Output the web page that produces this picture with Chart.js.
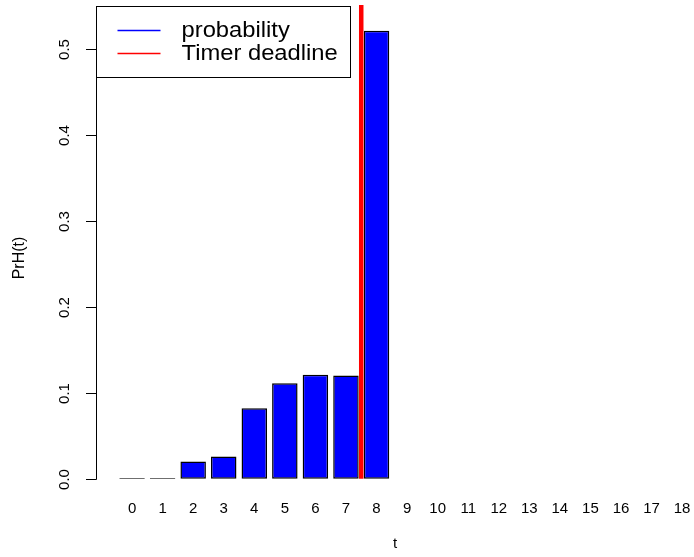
<!DOCTYPE html>
<html>
<head>
<meta charset="utf-8">
<script src="https://cdn.jsdelivr.net/npm/chart.js@4.4.1/dist/chart.umd.min.js"></script>
<style>
    html, body { margin: 0; padding: 0; background: #fff; }
    #wrap { width: 694px; height: 557px; }
</style>
</head>
<body>
<div id="wrap"><canvas id="chart"></canvas></div>
<script>
// --- DATOS ---
const tLabels = [0, 1, 2, 3, 4, 5, 6, 7, 8, 9, 10, 11, 12, 13, 14, 15, 16, 17, 18];
const probValues = [0.0008, 0.0008, 0.020, 0.026, 0.082, 0.111, 0.121, 0.120, 0.521,
    null, null, null, null, null, null, null, null, null, null];
const yTicks = [0.0, 0.1, 0.2, 0.3, 0.4, 0.5];
const deadlineT = 7.5;
const legendLabels = ['probability', 'Timer deadline'];
const legendColors = ['#0000ff', '#ff0000'];

// rango de ejes (como R: 4% extra)
const xMin = -1.18, xMax = 18.39;
const yMin = -0.0212, yMax = 0.551;

const FONT = 'Liberation Sans, Arial, Helvetica, sans-serif';

// --- PLUGIN: eje Y estilo R + leyenda con caja ---
const rAxisPlugin = {
    id: 'rAxis',
    afterDraw(chart) {
        const ctx = chart.ctx;
        const y = chart.scales.y;
        const area = chart.chartArea;
        const x0 = area.left;

        ctx.save();
        ctx.strokeStyle = '#000';
        ctx.lineWidth = 1;

        // linea del eje
        const yTop = Math.round(y.getPixelForValue(yTicks[yTicks.length - 1])) + 0.5;
        const yBot = Math.round(y.getPixelForValue(yTicks[0])) + 0.5;
        ctx.beginPath();
        ctx.moveTo(x0 + 0.5, yTop);
        ctx.lineTo(x0 + 0.5, yBot);
        ctx.stroke();

        // ticks y etiquetas rotadas
        ctx.fillStyle = '#000';
        ctx.font = '15px ' + FONT;
        ctx.textAlign = 'center';
        ctx.textBaseline = 'middle';
        yTicks.forEach(v => {
            const py = Math.round(y.getPixelForValue(v)) + 0.5;
            ctx.beginPath();
            ctx.moveTo(x0 - 10, py);
            ctx.lineTo(x0 + 0.5, py);
            ctx.stroke();
            ctx.save();
            ctx.translate(x0 - 31, py);
            ctx.rotate(-Math.PI / 2);
            ctx.fillText(v.toFixed(1), 0, 0);
            ctx.restore();
        });

        // titulo del eje Y
        ctx.save();
        ctx.font = '16px ' + FONT;
        ctx.translate(20, (area.top + area.bottom) / 2 + 7);
        ctx.rotate(-Math.PI / 2);
        ctx.fillText('PrH(t)', 0, 0);
        ctx.restore();

        // leyenda (topleft)
        const bx = x0 + 0.5, by = area.top + 1.5, bw = 254, bh = 71;
        ctx.fillStyle = '#fff';
        ctx.fillRect(bx, by, bw, bh);
        ctx.strokeStyle = '#000';
        ctx.strokeRect(bx, by, bw, bh);
        ctx.font = '22px ' + FONT;
        ctx.textAlign = 'left';
        legendLabels.forEach((lab, i) => {
            const ly = by + 24 + i * 23;
            ctx.strokeStyle = legendColors[i];
            ctx.lineWidth = 1.5;
            ctx.beginPath();
            ctx.moveTo(bx + 21, ly);
            ctx.lineTo(bx + 64, ly);
            ctx.stroke();
            ctx.fillStyle = '#000';
            ctx.save();
            ctx.translate(bx + 85, ly);
            ctx.scale(1.08, 1);
            ctx.fillText(lab, 0, 0);
            ctx.restore();
        });
        ctx.restore();
    }
};

const barData = tLabels.map((t, i) => ({ x: t, y: probValues[i] }));

new Chart(document.getElementById('chart'), {
    type: 'bar',
    data: {
        datasets: [{
            label: legendLabels[0],
            data: barData,
            backgroundColor: '#0000ff',
            borderColor: '#000',
            borderWidth: 1.5,
            borderSkipped: false,
            barPercentage: 0.834,
            categoryPercentage: 1,
            order: 2
        }, {
            type: 'line',
            label: legendLabels[1],
            data: [{ x: deadlineT, y: 0 }, { x: deadlineT, y: yMax }],
            borderColor: '#ff0000',
            borderWidth: 4.5,
            pointRadius: 0,
            order: 1
        }]
    },
    options: {
        responsive: true,
        maintainAspectRatio: false,
        animation: false,
        layout: { padding: { left: 96, right: 0, top: 5, bottom: 0 } },
        scales: {
            x: {
                type: 'linear',
                offset: false,
                min: xMin,
                max: xMax,
                afterBuildTicks: scale => { scale.ticks = tLabels.map(v => ({ value: v })); },
                grid: { display: false, drawTicks: false, offset: false },
                border: { display: false },
                ticks: {
                    autoSkip: false,
                    maxRotation: 0,
                    color: '#000',
                    padding: 2.5,
                    font: { size: 15, family: FONT },
                    callback: v => String(v)
                },
                title: {
                    display: true,
                    text: 't',
                    color: '#000',
                    font: { size: 15, family: FONT },
                    padding: { top: 15, bottom: 4 }
                }
            },
            y: {
                display: false,
                min: yMin,
                max: yMax
            }
        },
        plugins: {
            legend: { display: false },
            tooltip: { enabled: false }
        }
    },
    plugins: [rAxisPlugin]
});
</script>
</body>
</html>
